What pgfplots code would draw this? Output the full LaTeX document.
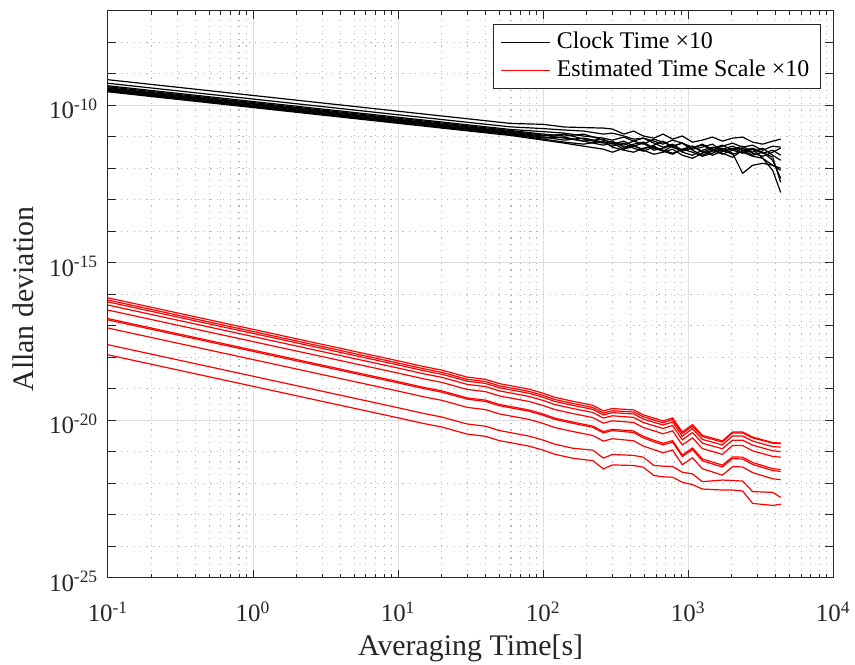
\documentclass[border=0pt]{standalone}
\usepackage{fontspec}
\setmainfont{Liberation Serif}
\usepackage{pgfplots}
\usepackage{pgfplotstable}
\pgfplotsset{compat=1.18}
\definecolor{axgray}{RGB}{38,38,38}
\definecolor{gridmaj}{RGB}{222,222,222}
\definecolor{gridmin}{RGB}{185,185,185}

\pgfplotstableread{
x b1 b2 b3 b4 b5 b6 b7 b8 b9 b10
0.1 6.44e-10 4.97e-10 4.14e-10 3.84e-10 3.57e-10 3.37e-10 3.17e-10 2.99e-10 2.82e-10 2.66e-10
1 2.04e-10 1.57e-10 1.31e-10 1.21e-10 1.13e-10 1.07e-10 1.00e-10 9.45e-11 8.92e-11 8.41e-11
10 6.44e-11 4.97e-11 4.14e-11 3.84e-11 3.57e-11 3.37e-11 3.17e-11 2.99e-11 2.82e-11 2.66e-11
20 4.55e-11 3.51e-11 2.93e-11 2.72e-11 2.52e-11 2.38e-11 2.24e-11 2.11e-11 1.99e-11 1.88e-11
40 3.22e-11 2.49e-11 2.07e-11 1.92e-11 1.79e-11 1.69e-11 1.59e-11 1.50e-11 1.41e-11 1.33e-11
60 2.63e-11 2.05e-11 1.69e-11 1.57e-11 1.46e-11 1.38e-11 1.29e-11 1.22e-11 1.15e-11 1.09e-11
100 2.47e-11 1.81e-11 1.45e-11 1.21e-11 1.12e-11 1.05e-11 9.72e-12 9.03e-12 8.39e-12 7.79e-12
140 2.03e-11 1.63e-11 1.30e-11 1.05e-11 9.03e-12 1.21e-11 7.79e-12 9.72e-12 6.72e-12 6.25e-12
190 1.95e-11 1.51e-11 1.05e-11 1.21e-11 7.24e-12 8.39e-12 9.03e-12 7.24e-12 5.80e-12 5.01e-12
260 1.88e-11 1.21e-11 9.03e-12 7.79e-12 8.39e-12 6.25e-12 6.72e-12 5.39e-12 7.24e-12 4.02e-12
300 1.75e-11 1.30e-11 7.79e-12 6.72e-12 5.80e-12 7.24e-12 5.01e-12 6.25e-12 4.65e-12 3.22e-12
360 1.21e-11 1.05e-11 9.72e-12 5.39e-12 7.24e-12 4.65e-12 6.25e-12 4.02e-12 3.73e-12 4.32e-12
420 1.51e-11 8.39e-12 7.24e-12 7.24e-12 5.01e-12 5.80e-12 4.32e-12 5.01e-12 3.22e-12 5.39e-12
490 1.05e-11 9.03e-12 5.80e-12 9.03e-12 4.02e-12 6.72e-12 3.47e-12 6.25e-12 4.32e-12 3.73e-12
580 9.03e-12 7.24e-12 8.39e-12 6.25e-12 5.39e-12 4.32e-12 4.65e-12 3.73e-12 5.01e-12 2.78e-12
670 1.21e-11 5.80e-12 6.72e-12 4.65e-12 7.24e-12 3.47e-12 3.73e-12 4.32e-12 3.47e-12 3.22e-12
780 8.39e-12 7.79e-12 5.01e-12 5.80e-12 4.65e-12 5.01e-12 2.99e-12 5.39e-12 2.78e-12 4.02e-12
910 1.05e-11 6.25e-12 6.25e-12 3.73e-12 3.47e-12 6.25e-12 4.02e-12 3.22e-12 4.02e-12 2.58e-12
1070 6.72e-12 4.65e-12 4.02e-12 5.01e-12 4.32e-12 3.73e-12 5.01e-12 2.58e-12 3.22e-12 2.07e-12
1250 7.79e-12 5.39e-12 4.65e-12 3.22e-12 5.80e-12 2.58e-12 3.47e-12 3.73e-12 2.40e-12 2.99e-12
1470 9.72e-12 3.73e-12 5.80e-12 4.32e-12 4.02e-12 3.47e-12 2.58e-12 4.65e-12 2.99e-12 3.73e-12
1720 7.24e-12 5.01e-12 3.47e-12 5.39e-12 2.99e-12 4.32e-12 3.47e-12 3.73e-12 4.02e-12 2.78e-12
2020 9.03e-12 6.25e-12 4.02e-12 3.73e-12 2.23e-12 2.99e-12 4.32e-12 2.78e-12 5.01e-12 3.73e-12
2370 9.72e-12 4.65e-12 5.01e-12 2.99e-12 3.73e-12 6.87e-13 3.22e-12 3.47e-12 3.73e-12 4.32e-12
2780 6.72e-12 5.39e-12 3.22e-12 4.02e-12 4.32e-12 1.24e-12 2.40e-12 4.02e-12 2.58e-12 2.99e-12
3260 5.80e-12 3.73e-12 4.32e-12 2.07e-12 3.22e-12 1.43e-12 2.07e-12 2.99e-12 3.22e-12 2.40e-12
3820 7.24e-12 5.01e-12 2.58e-12 1.24e-12 1.79e-12 1.24e-12 8.57e-13 3.73e-12 2.23e-12 3.22e-12
4340 8.39e-12 4.65e-12 1.79e-12 8.57e-13 4.76e-13 9.93e-13 1.70e-13 2.58e-12 3.54e-13 4.32e-12
}\clocktab

\pgfplotstableread{
x r1 r2 r3 r4 r5 r6 r7 r8 r9 r10
0.1 7.67e-17 6.53e-17 5.69e-17 4.52e-17 3.13e-17 1.68e-17 1.53e-17 8.41e-18 2.49e-18 1.19e-18
1 7.67e-18 6.53e-18 5.69e-18 4.52e-18 3.13e-18 1.68e-18 1.53e-18 8.41e-19 2.49e-19 1.19e-19
10 7.67e-19 6.53e-19 5.69e-19 4.52e-19 3.13e-19 1.68e-19 1.53e-19 8.41e-20 2.49e-20 1.19e-20
15 5.05e-19 4.30e-19 3.74e-19 2.97e-19 2.06e-19 1.10e-19 1.01e-19 5.53e-20 1.64e-20 7.85e-21
20 3.90e-19 3.32e-19 2.89e-19 2.30e-19 1.59e-19 8.53e-20 7.78e-20 4.28e-20 1.26e-20 6.07e-21
30 2.33e-19 1.98e-19 1.73e-19 1.37e-19 9.48e-20 5.09e-20 4.65e-20 2.55e-20 7.57e-21 3.62e-21
40 1.98e-19 1.69e-19 1.47e-19 1.17e-19 8.07e-20 4.34e-20 3.95e-20 2.17e-20 6.43e-21 3.08e-21
50 1.45e-19 1.23e-19 1.07e-19 8.51e-20 5.89e-20 3.16e-20 2.88e-20 1.58e-20 4.69e-21 2.24e-21
80 9.64e-20 8.20e-20 7.14e-20 5.68e-20 3.93e-20 2.11e-20 1.92e-20 1.06e-20 3.13e-21 1.50e-21
100 7.18e-20 6.11e-20 5.32e-20 4.23e-20 2.92e-20 1.57e-20 1.43e-20 7.87e-21 2.33e-21 1.12e-21
120 5.35e-20 4.55e-20 3.96e-20 3.15e-20 2.18e-20 1.17e-20 1.07e-20 5.86e-21 1.74e-21 8.32e-22
160 3.99e-20 3.40e-20 2.96e-20 2.35e-20 1.63e-20 8.73e-21 7.96e-21 4.38e-21 1.29e-21 6.19e-22
220 2.97e-20 2.53e-20 2.20e-20 1.75e-20 1.21e-20 6.50e-21 5.93e-21 3.26e-21 1.12e-21 5.20e-22
260 1.98e-20 1.69e-20 1.47e-20 1.17e-20 8.07e-21 4.34e-21 3.95e-21 2.17e-21 6.25e-22 2.84e-22
300 2.35e-20 2.00e-20 1.74e-20 1.38e-20 9.57e-21 5.14e-21 4.69e-21 2.58e-21 8.20e-22 3.81e-22
420 2.13e-20 1.82e-20 1.58e-20 1.23e-20 8.49e-21 4.56e-21 4.06e-21 2.23e-21 7.62e-22 3.65e-22
490 1.48e-20 1.29e-20 1.09e-20 8.49e-21 5.87e-21 3.08e-21 2.75e-21 1.51e-21 6.71e-22 3.22e-22
580 1.16e-20 1.01e-20 8.59e-21 6.67e-21 4.61e-21 2.31e-21 2.06e-21 1.16e-21 3.65e-22 1.75e-22
670 9.51e-21 8.28e-21 7.05e-21 5.47e-21 3.70e-21 1.85e-21 1.65e-21 9.29e-22 3.47e-22 1.60e-22
780 1.18e-20 1.05e-20 8.77e-21 6.81e-21 4.60e-21 2.25e-21 2.01e-21 1.13e-21 3.39e-22 1.55e-22
910 4.23e-21 3.77e-21 3.13e-21 2.38e-21 1.64e-21 7.87e-22 7.01e-22 3.85e-22 2.23e-22 1.07e-22
1070 7.23e-21 6.44e-21 5.36e-21 4.06e-21 2.75e-21 1.32e-21 1.17e-21 6.44e-22 1.97e-22 9.02e-23
1250 3.32e-21 3.03e-21 2.46e-21 1.87e-21 1.26e-21 5.90e-22 5.14e-22 2.89e-22 1.12e-22 6.53e-23
1720 2.21e-21 2.02e-21 1.64e-21 1.24e-21 8.22e-22 3.76e-22 3.27e-22 1.80e-22 1.26e-22 6.07e-23
2020 4.23e-21 3.94e-21 3.13e-21 2.32e-21 1.57e-21 6.85e-22 6.11e-22 3.36e-22 1.22e-22 6.07e-23
2370 4.23e-21 3.94e-21 3.13e-21 2.32e-21 1.57e-21 6.70e-22 5.83e-22 3.28e-22 1.17e-22 5.64e-23
2780 2.92e-21 2.73e-21 2.17e-21 1.61e-21 1.06e-21 4.53e-22 3.94e-22 2.17e-22 5.40e-23 2.28e-23
3820 1.95e-21 1.87e-21 1.45e-21 1.07e-21 7.10e-22 2.89e-22 2.52e-22 1.38e-22 5.12e-23 1.97e-23
4340 1.88e-21 1.80e-21 1.40e-21 1.01e-21 6.68e-22 2.72e-22 2.37e-22 1.30e-22 3.55e-23 2.16e-23
}\scaletab

\begin{document}
\begin{tikzpicture}
\begin{axis}[
  scale only axis,
  width=362.65bp, height=283.5bp,
  xmode=log, ymode=log,
  xmin=0.1, xmax=10000, ymin=1e-25, ymax=1e-7,
  axis line style={axgray, line width=0.5bp},
  every tick/.style={axgray, line width=0.5bp},
  tick align=inside,
  major tick length=4bp, minor tick length=2bp,
  xtick={0.1,1,10,100,1000,10000},
  xticklabels={10\textsuperscript{-1},10\textsuperscript{0},10\textsuperscript{1},10\textsuperscript{2},10\textsuperscript{3},10\textsuperscript{4}},
  minor xtick={0.2,0.3,0.4,0.5,0.6,0.7,0.8,0.9,2,3,4,5,6,7,8,9,20,30,40,50,60,70,80,90,200,300,400,500,600,700,800,900,2000,3000,4000,5000,6000,7000,8000,9000},
  ytick={1e-25,1e-20,1e-15,1e-10},
  yticklabels={10\textsuperscript{-25},10\textsuperscript{-20},10\textsuperscript{-15},10\textsuperscript{-10}},
  minor ytick={1e-24,1e-23,1e-22,1e-21,1e-19,1e-18,1e-17,1e-16,1e-14,1e-13,1e-12,1e-11,1e-9,1e-8},
  extra y ticks={1e-24,1e-23,1e-22,1e-21,1e-19,1e-18,1e-17,1e-16,1e-14,1e-13,1e-12,1e-11,1e-9,1e-8},
  extra y tick labels={},
  extra y tick style={grid=none},
  grid=both,
  major grid style={gridmaj, line width=0.5bp},
  minor grid style={gridmin, line width=0.55bp, dash pattern=on 0.6bp off 2.6bp},
  ticklabel style={font=\fontsize{12.5}{14}\selectfont, text=axgray, inner sep=0pt},
  xticklabel style={anchor=base, yshift=-22bp},
  yticklabel style={anchor=base east, xshift=-4.7bp, yshift=-6.85bp},
  xlabel={Averaging Time[s]},
  ylabel={Allan deviation},
  xlabel style={font=\fontsize{15}{17}\selectfont, text=axgray, at={(axis description cs:0.5,0)}, anchor=base, yshift=-38.65bp},
  ylabel style={font=\fontsize{15}{17}\selectfont, text=axgray, at={(axis description cs:-0.1026,0.4915)}, anchor=base},
  legend style={at={(rel axis cs:1,1)}, anchor=north east, xshift=-6.3bp, yshift=-6.65bp,
    draw=axgray, line width=0.5bp, fill=white,
    font=\fontsize{12}{14}\selectfont,
    inner xsep=3.5bp, inner ysep=1.5bp,
    row sep=-1bp, /tikz/column sep=1bp,
    nodes={inner sep=2bp, text height=8.5bp, text depth=2.5bp, text=black}},
  legend cell align=left,
  legend image code/.code={\draw[#1] (0bp,0bp) -- (24.7bp,0bp);},
]
\pgfplotsinvokeforeach{b1,b2,b3,b4,b5,b6,b7,b8,b9,b10}{
  \addplot[black, line width=0.6bp, forget plot] table[x=x, y=#1]{\clocktab};
}
\pgfplotsinvokeforeach{r1,r2,r3,r4,r5,r6,r7,r8,r9,r10}{
  \addplot[red, line width=0.6bp, forget plot] table[x=x, y=#1]{\scaletab};
}
\addlegendimage{black, line width=0.6bp}
\addlegendentry{Clock Time ×10}
\addlegendimage{red, line width=0.6bp}
\addlegendentry{Estimated Time Scale ×10}
\end{axis}
\pgfresetboundingbox
\path[use as bounding box] ([shift={(-54bp,-43.65bp)}]current axis.south west) rectangle ([shift={(10.85bp,5.35bp)}]current axis.north east);
\end{tikzpicture}
\end{document}
